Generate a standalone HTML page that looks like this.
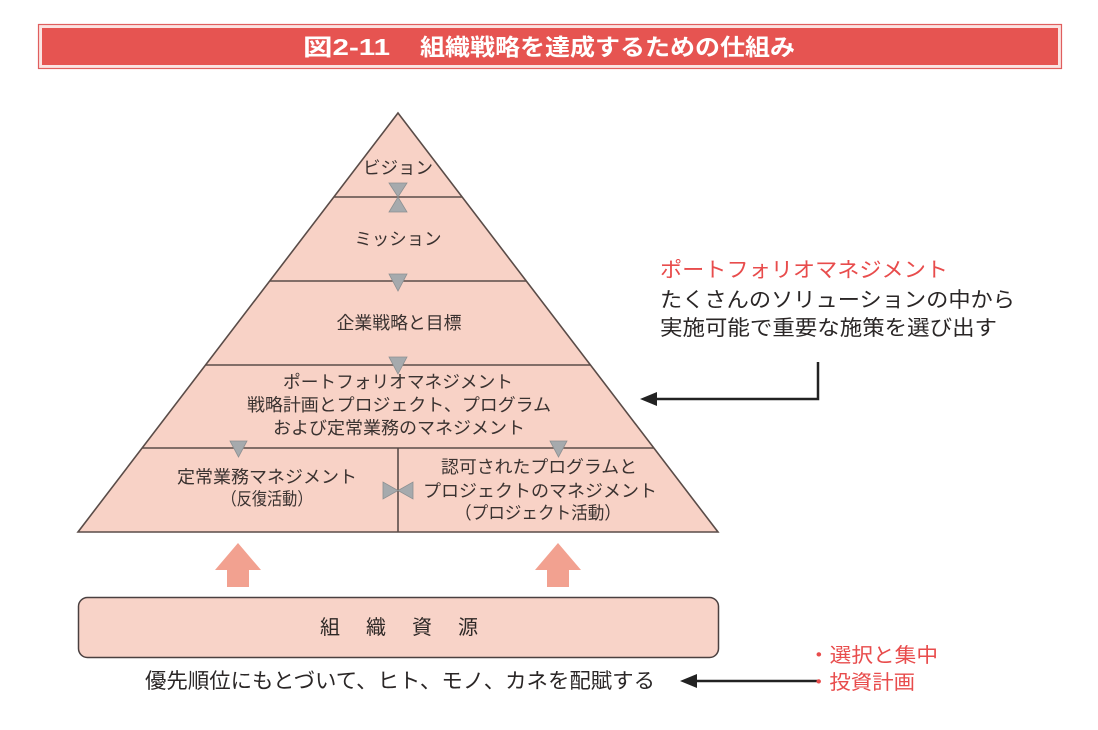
<!DOCTYPE html>
<html><head><meta charset="utf-8"><style>
html,body{margin:0;padding:0;background:#fff;}
svg{display:block;}
text{font-family:"Liberation Sans","Noto Sans CJK JP",sans-serif;}
</style></head><body>
<svg width="1098" height="730" viewBox="0 0 1098 730" xmlns="http://www.w3.org/2000/svg">
<!-- Title bar -->
<rect x="38.5" y="24.5" width="1023" height="44" fill="#fbe3e2" stroke="#e05e5e" stroke-width="1.2"/>
<rect x="42" y="28" width="1016" height="37" fill="#e65451"/>
<text x="303" y="55" font-size="23" font-weight="bold" fill="#fff" textLength="87" lengthAdjust="spacingAndGlyphs">図2-11</text>
<text x="420" y="55" font-size="23" font-weight="bold" fill="#fff" textLength="375" lengthAdjust="spacingAndGlyphs">組織戦略を達成するための仕組み</text>

<!-- Pyramid -->
<polygon points="398,113 718,532 78,532" fill="#f8d2c6" stroke="#5a4c48" stroke-width="1.6" stroke-linejoin="miter"/>
<g stroke="#5a4c48" stroke-width="1.6">
<line x1="334" y1="197" x2="462" y2="197"/>
<line x1="270" y1="281" x2="526" y2="281"/>
<line x1="205.5" y1="365" x2="590.5" y2="365"/>
<line x1="142" y1="448" x2="654" y2="448"/>
<line x1="398" y1="448" x2="398" y2="532"/>
</g>

<!-- gray triangles -->
<g fill="#a6aaad" stroke="#8c9092" stroke-width="0.8">
<polygon points="389,183 407,183 398,197"/>
<polygon points="389,212 407,212 398,197"/>
<polygon points="389,274 407,274 398,291"/>
<polygon points="389,357 407,357 398,374"/>
<polygon points="230,441 247,441 238.5,457"/>
<polygon points="550,441 567,441 558.5,457"/>
<polygon points="383,482 383,499 398,490.5"/>
<polygon points="413,482 413,499 398,490.5"/>
</g>

<!-- Pyramid texts -->
<g fill="#3a3230" font-size="17.5" text-anchor="middle">
<text x="398" y="174" textLength="70" lengthAdjust="spacingAndGlyphs">ビジョン</text>
<text x="398" y="245" textLength="87" lengthAdjust="spacingAndGlyphs">ミッション</text>
<text x="399" y="329" textLength="125" lengthAdjust="spacingAndGlyphs">企業戦略と目標</text>
<text x="398" y="388" textLength="230" lengthAdjust="spacingAndGlyphs">ポートフォリオマネジメント</text>
<text x="399" y="411" textLength="304" lengthAdjust="spacingAndGlyphs">戦略計画とプロジェクト、プログラム</text>
<text x="399" y="434" textLength="252" lengthAdjust="spacingAndGlyphs">および定常業務のマネジメント</text>
<text x="267" y="483" textLength="180" lengthAdjust="spacingAndGlyphs">定常業務マネジメント</text>
<text x="267" y="505" textLength="91" lengthAdjust="spacingAndGlyphs">（反復活動）</text>
<text x="539" y="473" textLength="196" lengthAdjust="spacingAndGlyphs">認可されたプログラムと</text>
<text x="540" y="497" textLength="234" lengthAdjust="spacingAndGlyphs">プロジェクトのマネジメント</text>
<text x="538" y="519" textLength="166" lengthAdjust="spacingAndGlyphs">（プロジェクト活動）</text>
</g>

<!-- Up arrows -->
<g fill="#f2a190">
<polygon points="238,543 261,570 249,570 249,587 227,587 227,570 215,570"/>
<polygon points="558,543 581,570 569,570 569,587 547,587 547,570 535,570"/>
</g>

<!-- Resource box -->
<rect x="78.5" y="597.5" width="640" height="60" rx="9" ry="9" fill="#f8d3c8" stroke="#4a4040" stroke-width="1.5"/>
<g fill="#2e2826" font-size="20" text-anchor="middle">
<text x="330" y="634">組</text>
<text x="376" y="634">織</text>
<text x="422" y="634">資</text>
<text x="468" y="634">源</text>
</g>

<!-- Bottom text -->
<text x="145" y="688" font-size="21" fill="#2a2626" textLength="510" lengthAdjust="spacingAndGlyphs">優先順位にもとづいて、ヒト、モノ、カネを配賦する</text>
<line x1="820" y1="681" x2="694" y2="681" stroke="#222" stroke-width="2.5"/>
<polygon points="680,681 697,674 697,688" fill="#222"/>
<text x="808" y="662" font-size="20" fill="#e84c4c" textLength="130" lengthAdjust="spacingAndGlyphs">・選択と集中</text>
<text x="808" y="689" font-size="20" fill="#e84c4c" textLength="107" lengthAdjust="spacingAndGlyphs">・投資計画</text>

<!-- Right side annotation -->
<text x="660" y="277" font-size="21" fill="#e84c4c" textLength="288" lengthAdjust="spacingAndGlyphs">ポートフォリオマネジメント</text>
<text x="660" y="307" font-size="21" fill="#2a2626" textLength="355" lengthAdjust="spacingAndGlyphs">たくさんのソリューションの中から</text>
<text x="660" y="335" font-size="21" fill="#2a2626" textLength="337" lengthAdjust="spacingAndGlyphs">実施可能で重要な施策を選び出す</text>
<polyline points="818,362 818,399 654,399" fill="none" stroke="#222" stroke-width="2.5"/>
<polygon points="640,399 657,392 657,406" fill="#222"/>
</svg>
</body></html>
